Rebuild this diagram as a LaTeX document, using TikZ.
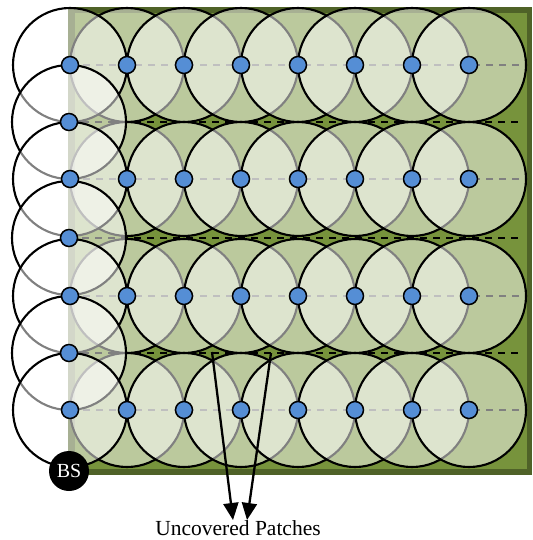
\documentclass[tikz,border=0pt]{standalone}
\usepackage{fontspec}
\setmainfont{Liberation Serif}
\usetikzlibrary{arrows.meta}
\definecolor{olivedark}{HTML}{4F6228}
\definecolor{olivemid}{HTML}{77933C}
\definecolor{dotblue}{HTML}{558ED5}
\tikzset{
  cover/.style={fill=white, fill opacity=0.5, draw=black, line width=2.1pt},
  sensor/.style={circle, fill=dotblue, draw=black, line width=1.5pt,
    minimum size=17pt, inner sep=0pt},
  guide/.style={draw=black, line width=1.6pt, dash pattern=on 7pt off 6pt},
  pointer/.style={draw=black, line width=2.3pt, -{Triangle[length=17pt,width=15pt]}},
  station/.style={circle, fill=black, minimum size=40pt, inner sep=0pt,
    text=white, font=\fontsize{20}{20}\selectfont},
  caption/.style={font=\fontsize{21.5}{24}\selectfont, anchor=base},
}
\begin{document}
\begin{tikzpicture}[x=1pt,y=-1pt]
\useasboundingbox (0,0) rectangle (532,540);

% field to be covered
\fill[olivedark] (68,7) rectangle (532,475);
\fill[olivemid] (75,13) rectangle (527,469);

% sensor positions: four rows plus three extra ones on the left edge
\foreach \r/\y in {1/65,2/179,3/296,4/410} {
  \foreach \i in {0,...,7} {
    \coordinate (s\r-\i) at ({70+57*\i},\y);
  }
  \coordinate (e\r) at (524,\y);
}
\foreach \k/\y in {1/122,2/238,3/353} {
  \coordinate (m\k) at (69,\y);
  \coordinate (me\k) at (524,\y);
}

% dashed guide lines
\foreach \r in {1,...,4} { \draw[guide] (s\r-0) -- (e\r); }
\foreach \k in {1,2,3} { \draw[guide] (m\k) -- (me\k); }

% sensing ranges of the inner sensors, row by row, left to right
\foreach \r in {1,...,4} {
  \foreach \i in {1,...,7} {
    \draw[cover] (s\r-\i) circle[radius=57pt];
  }
}
% sensing ranges of the left-edge column, top to bottom, on top
\draw[cover] (s1-0) circle[radius=57pt];
\foreach \k in {1,2,3} {
  \pgfmathtruncatemacro{\nxt}{\k+1}
  \draw[cover] (m\k) circle[radius=57pt];
  \draw[cover] (s\nxt-0) circle[radius=57pt];
}

% sensors
\foreach \r in {1,...,4} {
  \foreach \i in {0,...,7} {
    \node[sensor] (n\r-\i) at (s\r-\i) {};
  }
}
\foreach \k in {1,2,3} { \node[sensor] (nm\k) at (m\k) {}; }

% base station
\node[station] (bs) at (69,471) {BS};

% uncovered patches
\node[caption] (lbl) at (238,535) {Uncovered Patches};
\coordinate (gapA) at (212,352);
\coordinate (gapB) at (271,353);
\coordinate (tipA) at (233,520);
\coordinate (tipB) at (247,520);
\draw[pointer] (gapA) -- (tipA);
\draw[pointer] (gapB) -- (tipB);
\end{tikzpicture}
\end{document}
